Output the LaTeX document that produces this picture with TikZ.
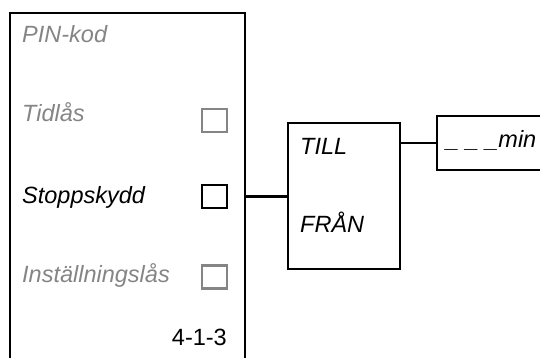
\documentclass[tikz,border=0pt]{standalone}
\usepackage{fontspec}
\setmainfont{Liberation Sans}
\usetikzlibrary{positioning}

\definecolor{dimgray}{HTML}{858585}

\begin{document}
\begin{tikzpicture}[
  x=1pt, y=-1pt,
  % Box styles
  frame/.style={
    rectangle, draw, line width=2.2pt, inner sep=0pt
  },
  chkbox/.style={
    rectangle, draw, line width=2.2pt, inner sep=0pt,
    minimum width=25pt, minimum height=23pt
  },
  chkoff/.style={chkbox, draw=dimgray},
  % Text styles
  label/.style={
    anchor=base west, inner sep=0pt,
    font=\fontsize{23.5}{28}\selectfont\itshape
  },
  labeloff/.style={label, text=dimgray},
  % Connector style
  wire/.style={line width=2.2pt}
]
\useasboundingbox (0,0) rectangle (540,358);
\clip (0,0) rectangle (540,358);

%% -- Settings panel --------------------------------------------
\node[frame, minimum width=235pt, minimum height=367pt] (panel) at (127.5,196.5) {};

\node[labeloff] (pin)    at (22,43)  {PIN-kod};
\node[labeloff] (tidlas) at (22,122) {Tidlås};
\node[label]    (stopp)  at (22,203) {Stoppskydd};
\node[labeloff] (instl)  at (22,282) {Inställningslås};
\node[label, font=\fontsize{23.5}{28}\selectfont, anchor=base east] (menu) at (227,345) {4-1-3};

\node[chkoff] (chktid)   at (214.5,120.5) {};
\node[chkbox] (chkstopp) at (214.5,196.5) {};
\node[chkoff] (chkinst)  at (214.5,277)   {};

%% -- On/off box ------------------------------------------------
\node[frame, minimum width=112pt, minimum height=146pt] (onoff) at (344,196) {};
\node[label] (till) at (300,154) {TILL};
\node[label] (fran) at (300,232) {FRÅN};

%% -- Minutes box -----------------------------------------------
\node[frame, minimum width=133pt, minimum height=54pt] (minbox) at (503.5,143) {};
\node[label] (minutes) at (446,148) {\_ \_ \_min};

%% -- Connectors ------------------------------------------------
\draw[wire] (chkstopp -| panel.east) -- (chkstopp -| onoff.west);
\draw[wire] (minbox.west -| onoff.east) -- (minbox.west);

\end{tikzpicture}
\end{document}
